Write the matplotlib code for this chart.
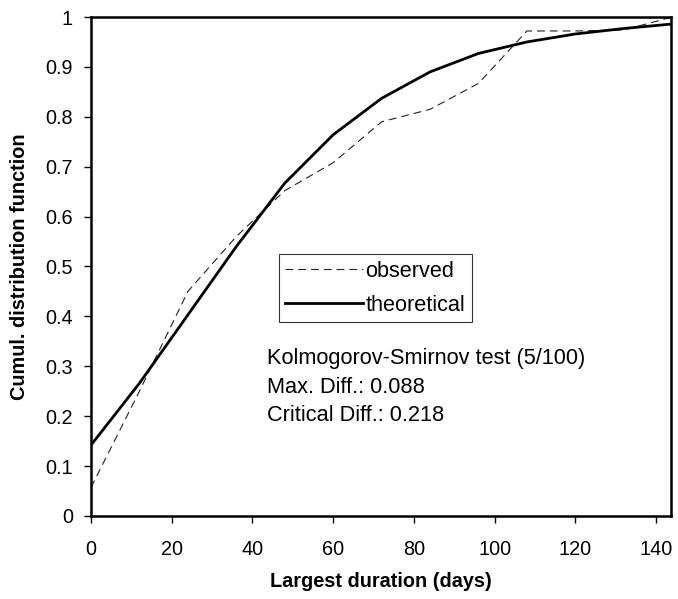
import matplotlib
matplotlib.use("Agg")
import matplotlib.pyplot as plt

plt.rcParams['font.family'] = ['Liberation Sans', 'DejaVu Sans']

# Largest duration (days) at which the CDFs are evaluated
duration = [0, 12, 24, 36, 48, 60, 72, 84, 96, 108, 120, 132, 144]
# Empirical cumulative distribution
observed = [0.057, 0.25, 0.45, 0.56, 0.652, 0.708, 0.79, 0.815, 0.867, 0.972, 0.972, 0.974, 1.0]
# Fitted theoretical cumulative distribution
theoretical = [0.142, 0.266, 0.403, 0.54, 0.667, 0.764, 0.837, 0.89, 0.927, 0.95, 0.966, 0.977, 0.986]

x_ticks = [0, 20, 40, 60, 80, 100, 120, 140]
y_ticks = [0, 0.1, 0.2, 0.3, 0.4, 0.5, 0.6, 0.7, 0.8, 0.9, 1]
y_tick_labels = ['0', '0.1', '0.2', '0.3', '0.4', '0.5', '0.6', '0.7', '0.8', '0.9', '1']

ks_lines = ["Kolmogorov-Smirnov test (5/100)", "Max. Diff.: 0.088", "Critical Diff.: 0.218"]

fig = plt.figure(figsize=(6.78, 5.99), dpi=100)
ax = fig.add_axes([0.1342, 0.1386, 0.8555, 0.833])

ax.plot(duration, observed, color='#222222', lw=0.8, ls=(0, (7, 4.5)), label='observed')
ax.plot(duration, theoretical, color='black', lw=2.0, label='theoretical')

ax.set_xlim(0, 143.7)
ax.set_ylim(0, 1)
ax.set_xticks(x_ticks)
ax.set_xticklabels([str(v) for v in x_ticks])
ax.set_yticks(y_ticks)
ax.set_yticklabels(y_tick_labels)
ax.tick_params(axis='both', direction='out', length=5, width=1, labelsize=14.3, pad=8)
ax.tick_params(axis='x', pad=12)
for s in ax.spines.values():
    s.set_linewidth(1.8)

ax.set_xlabel('Largest duration (days)', fontsize=14.3, fontweight='bold', labelpad=10)
ax.set_ylabel('Cumul. distribution function', fontsize=14.3, fontweight='bold', labelpad=12)

leg = ax.legend(loc='upper left', bbox_to_anchor=(0.324, 0.525), fontsize=15.6,
                frameon=True, fancybox=False, handlelength=3.6, handletextpad=0.1,
                borderpad=0.3, labelspacing=0.6, borderaxespad=0)
leg.get_frame().set_edgecolor('black')
leg.get_frame().set_linewidth(0.8)

for i, line in enumerate(ks_lines):
    ax.text(0.303, 0.315 - i * 0.0573, line, transform=ax.transAxes,
            fontsize=15.7, va='center', ha='left')

fig.savefig('out.png', dpi=100, facecolor='white')
